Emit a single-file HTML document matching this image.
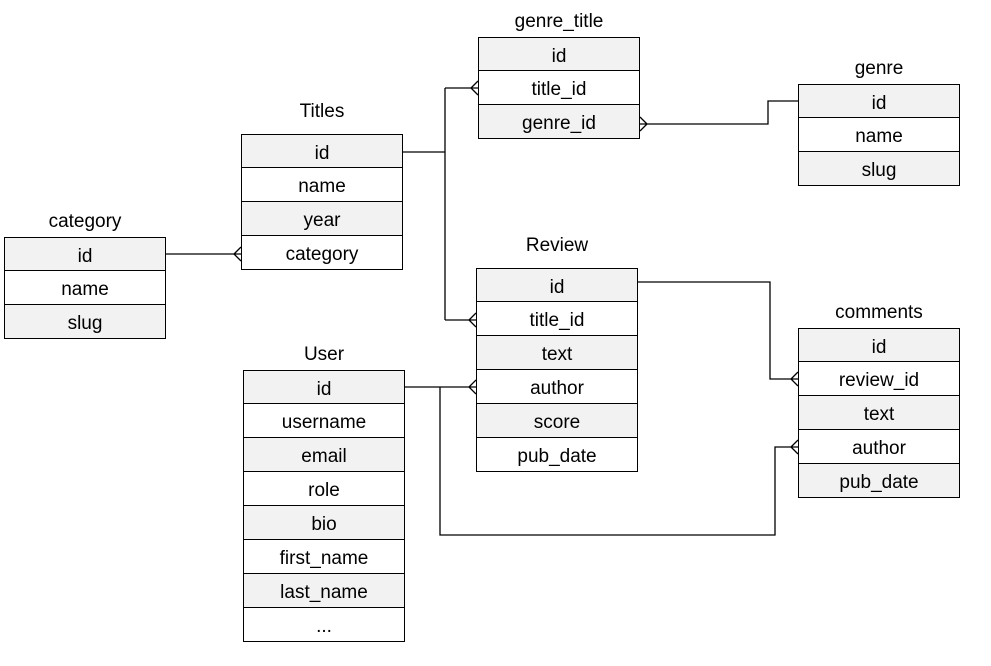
<!DOCTYPE html><html><head><style>
body{margin:0;width:991px;height:666px;background:#fff;overflow:hidden;position:relative;font-family:"Liberation Sans",sans-serif}
.t{position:absolute;width:162px}
.h{position:absolute;left:0;width:162px;text-align:center;font-size:19px;top:-26px}
.hh{top:-33px}
.r{height:34px;box-sizing:border-box;border:1.3px solid #000;border-top:none;text-align:center;font-size:19px;line-height:32px;padding-top:3px;background:#fff}
.f{border-top:1.3px solid #000}
.g{background:#f2f2f2}
svg{position:absolute;left:0;top:0}
</style></head><body>
<svg width="991" height="666" fill="none" stroke="#000" stroke-width="1.3">
<path d="M403 152H445M445 88V320M445 88H478M445 320H476"/>
<path d="M471 88L478 81M471 88L478 95M469 320L476 313M469 320L476 327"/>
<path d="M640 124H768V101H798M647 124L640 117M647 124L640 131"/>
<path d="M166 254H241M234 254L241 247M234 254L241 261"/>
<path d="M638 282H770V379H798M791 379L798 372M791 379L798 386"/>
<path d="M405 387H476M469 387L476 380M469 387L476 394"/>
<path d="M440 387V535H775V447H798M791 447L798 440M791 447L798 454"/>
</svg>
<div class="t" style="left:478px;top:37px"><div class="h">genre_title</div><div class="r g f">id</div><div class="r">title_id</div><div class="r g">genre_id</div></div>
<div class="t" style="left:798px;top:84px"><div class="h">genre</div><div class="r g f">id</div><div class="r">name</div><div class="r g">slug</div></div>
<div class="t" style="left:241px;top:134px"><div class="h hh">Titles</div><div class="r g f">id</div><div class="r">name</div><div class="r g">year</div><div class="r">category</div></div>
<div class="t" style="left:4px;top:237px"><div class="h">category</div><div class="r g f">id</div><div class="r">name</div><div class="r g">slug</div></div>
<div class="t" style="left:476px;top:268px"><div class="h hh">Review</div><div class="r g f">id</div><div class="r">title_id</div><div class="r g">text</div><div class="r">author</div><div class="r g">score</div><div class="r">pub_date</div></div>
<div class="t" style="left:798px;top:328px"><div class="h">comments</div><div class="r g f">id</div><div class="r">review_id</div><div class="r g">text</div><div class="r">author</div><div class="r g">pub_date</div></div>
<div class="t" style="left:243px;top:370px"><div class="h">User</div><div class="r g f">id</div><div class="r">username</div><div class="r g">email</div><div class="r">role</div><div class="r g">bio</div><div class="r">first_name</div><div class="r g">last_name</div><div class="r">...</div></div>
</body></html>
